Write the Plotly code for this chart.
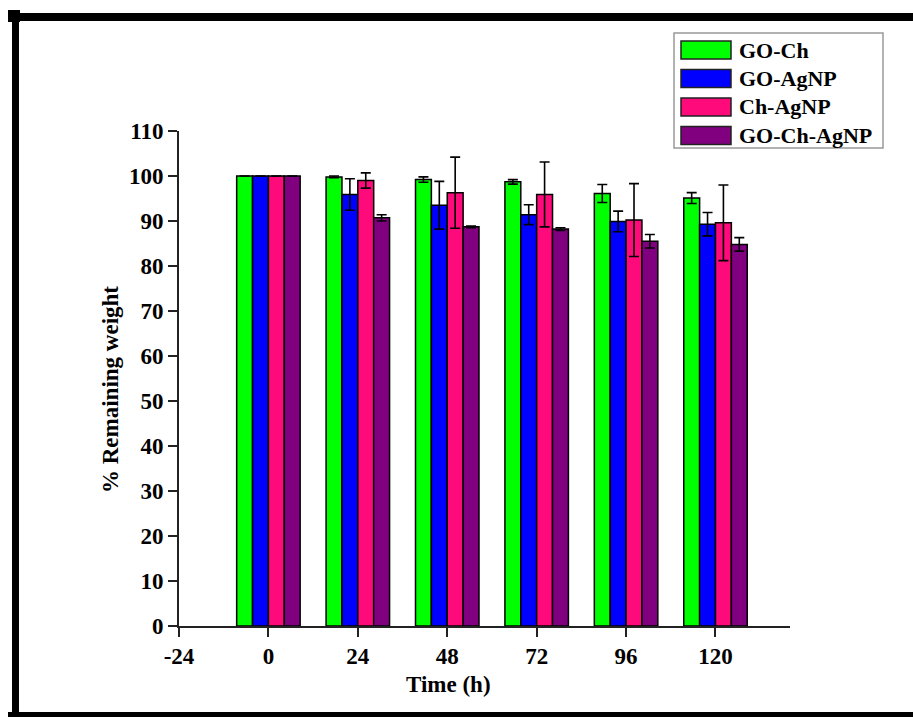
import plotly.graph_objects as go

times = [0, 24, 48, 72, 96, 120]
series_names = ["GO-Ch", "GO-AgNP", "Ch-AgNP", "GO-Ch-AgNP"]
go_ch = [100, 99.8, 99.2, 98.7, 96.1, 95.1]
go_ch_err = [0, 0.2, 0.6, 0.5, 2.0, 1.2]
go_agnp = [100, 95.9, 93.5, 91.4, 89.9, 89.3]
go_agnp_err = [0, 3.5, 5.3, 2.2, 2.3, 2.6]
ch_agnp = [100, 99.0, 96.3, 95.9, 90.2, 89.6]
ch_agnp_err = [0, 1.7, 7.9, 7.2, 8.1, 8.4]
go_ch_agnp = [100, 90.7, 88.7, 88.2, 85.5, 84.8]
go_ch_agnp_err = [0, 0.7, 0.2, 0.3, 1.5, 1.5]
colors = ["#00FF00", "#0000FF", "#FF0A7A", "#800080"]
x_ticks = [-24, 0, 24, 48, 72, 96, 120]
x_tick_labels = ["-24", "0", "24", "48", "72", "96", "120"]
y_ticks = list(range(0, 111, 10))

values = [go_ch, go_agnp, ch_agnp, go_ch_agnp]
errors = [go_ch_err, go_agnp_err, ch_agnp_err, go_ch_agnp_err]

W, H = 913, 717
L, R, T, B = 179, 123, 131, 91
pw, ph = W - L - R, H - T - B

def px(x):
    return (x - L) / pw

def py(y):
    return (H - B - y) / ph

FONT = "Liberation Serif, Times New Roman, serif"

fig = go.Figure()
for name, v, e, c in zip(series_names, values, errors, colors):
    fig.add_trace(go.Bar(
        x=times, y=v, name=name,
        marker=dict(color=c, line=dict(color="black", width=1.5)),
        error_y=dict(type="data", array=e, visible=True, color="black",
                     thickness=1.6, width=5),
        showlegend=False,
    ))

axis_common = dict(
    showgrid=False, zeroline=False, showline=True, linecolor="#222",
    linewidth=1.6, ticks="outside", ticklen=9, tickwidth=1.5, tickcolor="#222",
    tickfont=dict(family=FONT, size=23, color="black", weight="bold"),
)

fig.update_layout(
    width=W, height=H,
    margin=dict(l=L, r=R, t=T, b=B, pad=0),
    paper_bgcolor="white", plot_bgcolor="white",
    barmode="group", bargap=0.29, bargroupgap=0,
    xaxis=dict(range=[-24, 140], tickvals=x_ticks, ticktext=x_tick_labels, **axis_common),
    yaxis=dict(range=[0, 110], tickvals=y_ticks, **axis_common),
)

# axis titles
fig.add_annotation(x=px(448), y=py(684), xref="paper", yref="paper",
                   xanchor="center", yanchor="middle",
                   text="Time (h)", showarrow=False,
                   font=dict(family=FONT, size=23, color="black", weight="bold"))
fig.add_annotation(x=px(110), y=py(390), xref="paper", yref="paper",
                   xanchor="center", yanchor="middle",
                   text="% Remaining weight", showarrow=False, textangle=-90,
                   font=dict(family=FONT, size=23, color="black", weight="bold"))

shapes = []
# frame lines
shapes.append(dict(type="rect", xref="paper", yref="paper", x0=px(8), x1=px(915),
                   y0=py(13), y1=py(21), fillcolor="black", line=dict(width=0)))
shapes.append(dict(type="rect", xref="paper", yref="paper", x0=px(12), x1=px(19),
                   y0=py(10), y1=py(720), fillcolor="black", line=dict(width=0)))
shapes.append(dict(type="rect", xref="paper", yref="paper", x0=px(8), x1=px(915),
                   y0=py(712), y1=py(720), fillcolor="black", line=dict(width=0)))
shapes.append(dict(type="rect", xref="paper", yref="paper", x0=px(8), x1=px(20),
                   y0=py(10), y1=py(22), fillcolor="black", line=dict(width=0)))
# legend box
shapes.append(dict(type="rect", xref="paper", yref="paper", x0=px(674), x1=px(883),
                   y0=py(33), y1=py(148), fillcolor="white",
                   line=dict(color="#999", width=1.5)))
row_tops = [41, 69.5, 98, 126.5]
for name, c, top in zip(series_names, colors, row_tops):
    shapes.append(dict(type="rect", xref="paper", yref="paper", x0=px(681), x1=px(731),
                       y0=py(top), y1=py(top + 18), fillcolor=c,
                       line=dict(color="#222", width=1.5)))
    fig.add_annotation(x=px(737), y=py(top + 9), xref="paper", yref="paper",
                       text=name, showarrow=False, xanchor="left", yanchor="middle",
                       font=dict(family=FONT, size=22, color="black", weight="bold"))
fig.update_layout(shapes=shapes)

fig.write_html("out.html")
